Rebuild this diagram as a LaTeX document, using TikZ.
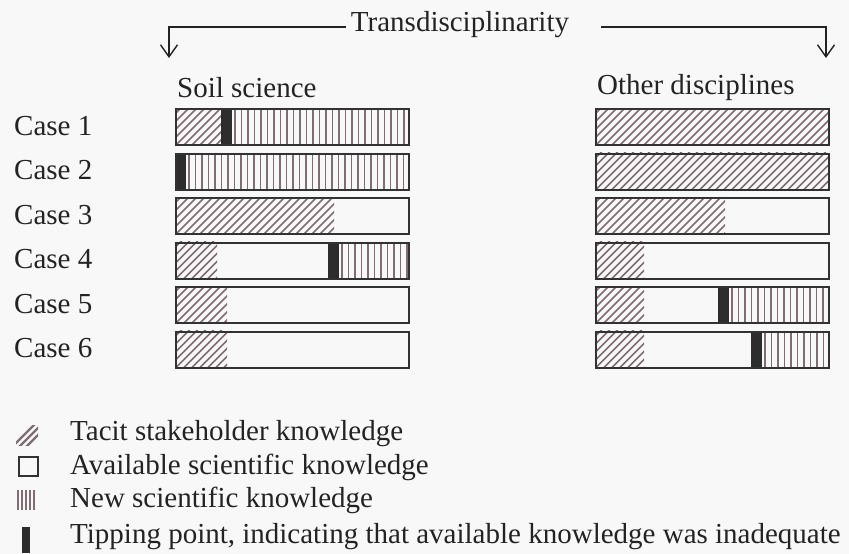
\documentclass[tikz,border=0pt]{standalone}
\usepackage{fontspec}
\setmainfont{Liberation Serif}
\usetikzlibrary{arrows.meta}
\definecolor{hatchc}{RGB}{128,108,116}
\definecolor{edgec}{RGB}{50,50,50}
\definecolor{bgc}{RGB}{248,248,248}
\definecolor{tipc}{RGB}{45,45,45}
\definecolor{textc}{RGB}{35,35,35}
\newcommand{\hseg}[3]{% x1 x2 ytop : diagonal hatch
  \begin{scope}
    \clip (#1,#3) rectangle (#2,#3+36);
    \foreach \k in {0,8,...,300} \draw[hatchline] ({#1+\k-40},{#3+38}) -- ++(42,-42);
  \end{scope}}
\newcommand{\vseg}[3]{% x1 x2 ytop : vertical lines
  \begin{scope}
    \clip (#1,#3) rectangle (#2,#3+36);
    \foreach \k in {3,9.5,...,250} \draw[hatchline] ({#1+\k},#3) -- ++(0,36);
  \end{scope}}
\newcommand{\tseg}[2]{% x1 ytop : tipping point
  \fill[tipc] (#1,#2) rectangle ++(11,36);}
\begin{document}
\begin{tikzpicture}[x=1pt,y=-1pt,
  txt/.style={inner sep=0pt, text=textc, font=\fontsize{29}{34}\selectfont},
  hatchline/.style={draw=hatchc, line width=1.7pt},
  bar/.style={draw=edgec, line width=2.2pt, rectangle, minimum width=233pt, minimum height=36pt, inner sep=0pt, anchor=north west},
  arr/.style={draw=textc, line width=1.4pt, -{Straight Barb[length=12pt,width=17pt,line width=1.4pt]}}]
\fill[bgc] (0,0) rectangle (849,554);
\useasboundingbox (0,0) rectangle (849,554);

% title and arrows
\node[txt] (trans) at (460,25) {Transdisciplinarity};
\coordinate (la) at (169,58);
\coordinate (ra) at (826,58);
\draw[arr] ([xshift=-5pt,yshift=-2pt]trans.west) -| (la);
\draw[arr] ([xshift=32pt,yshift=-2pt]trans.east) -| (ra);

% headings
\node[txt, anchor=west] (soil) at (177,88) {Soil science};
\node[txt, anchor=west] (other) at (597,88) {Other disciplines};

% case labels
\foreach \i/\t in {1/108,2/152.5,3/197,4/241.5,5/286,6/330.5}
  \node[txt, anchor=west] (case\i) at (14,\t+18) {Case \i};

% left bars (soil science)
\hseg{175}{221}{108} \tseg{221}{108} \vseg{232}{408}{108}
\tseg{175}{152.5} \vseg{186}{408}{152.5}
\hseg{175}{334}{197}
\hseg{175}{217}{241.5} \tseg{328}{241.5} \vseg{339}{408}{241.5}
\hseg{175}{227}{286}
\hseg{175}{227}{330.5}

% right bars (other disciplines)
\hseg{595}{828}{108}
\hseg{595}{828}{152.5}
\hseg{595}{725}{197}
\hseg{595}{644}{241.5}
\hseg{595}{644}{286} \tseg{718}{286} \vseg{729}{828}{286}
\hseg{595}{644}{330.5} \tseg{751}{330.5} \vseg{762}{828}{330.5}

\foreach \i/\t in {1/108,2/152.5,3/197,4/241.5,5/286,6/330.5}{
  \node[bar] (L\i) at (175,\t) {};
  \node[bar] (R\i) at (595,\t) {};
}

% legend
\begin{scope}
  \clip (16,425) rectangle (38,445);
  \foreach \k in {0,7,14} \draw[hatchline, line width=2.2pt] (\k+12,447) -- ++(24,-24);
\end{scope}
\node[txt, anchor=west] (leg1) at (70,434) {Tacit stakeholder knowledge};
\draw[draw=edgec, line width=1.8pt] (19,457) rectangle (38,476);
\node[txt, anchor=west] (leg2) at (70,467) {Available scientific knowledge};
\foreach \k in {18,22,26,30,34} \draw[hatchline] (\k,490) -- (\k,510);
\node[txt, anchor=west] (leg3) at (70,500) {New scientific knowledge};
\fill[tipc] (22,527) rectangle (30,553);
\node[txt, anchor=west] (leg4) at (70,537) {Tipping point, indicating that available knowledge was inadequate};
\end{tikzpicture}
\end{document}
